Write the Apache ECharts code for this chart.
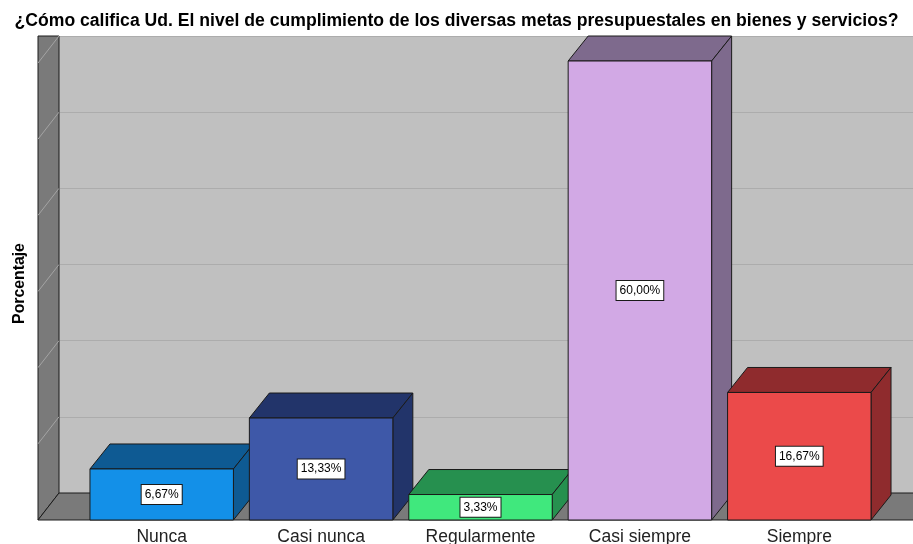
<!DOCTYPE html>
<html>
<head>
<meta charset="utf-8">
<script src="https://cdn.jsdelivr.net/npm/echarts@6/dist/echarts.min.js"></script>
<style>
  html, body { margin: 0; padding: 0; background: #fff; }
  #chart { width: 913px; height: 544px; }
</style>
</head>
<body>
<div id="chart"></div>
<script>
// datos
var categorias = ['Nunca', 'Casi nunca', 'Regularmente', 'Casi siempre', 'Siempre'];
var porcentajes = [6.67, 13.33, 3.33, 60.00, 16.67];
var ticksY = [0, 10, 20, 30, 40, 50, 60];

var colorFrente = ['#1390e8', '#3e58a8', '#40e87d', '#d2a9e5', '#eb4a4a'];
var colorSombra = ['#0e5a93', '#22346a', '#26904f', '#7e6a8d', '#8f2b2d'];

// profundidad 3d
var DX_MURO = 21, DY_MURO = 27;
var DX_BARRA = 20, DY_BARRA = 25;

var chart = echarts.init(document.getElementById('chart'));

function fmt(v) {
  return v.toFixed(2).replace('.', ',') + '%';
}

function dibujaMuros(params, api) {
  var cs = params.coordSys;
  var x0 = cs.x, y0 = cs.y, x1 = cs.x + cs.width, yb = cs.y + cs.height;
  var hijos = [];
  // pared izquierda
  hijos.push({
    type: 'polygon',
    shape: { points: [[x0 - DX_MURO, y0], [x0, y0], [x0, yb], [x0 - DX_MURO, yb + DY_MURO]] },
    style: { fill: '#7a7a7a', stroke: '#1a1a1a', lineWidth: 1 }
  });
  // lineas diagonales de la pared
  ticksY.forEach(function (t) {
    if (t === 0) return;
    var y = api.coord([0, t])[1];
    hijos.push({
      type: 'line',
      shape: { x1: x0, y1: y, x2: x0 - DX_MURO, y2: y + DY_MURO },
      style: { stroke: '#a4a4a4', lineWidth: 1 }
    });
  });
  // piso
  hijos.push({
    type: 'polygon',
    shape: { points: [[x0 - DX_MURO, yb + DY_MURO], [x0, yb], [x1 + 2, yb], [x1 + 2, yb + DY_MURO]] },
    style: { fill: '#7a7a7a', stroke: '#1a1a1a', lineWidth: 1 }
  });
  return { type: 'group', children: hijos };
}

function dibujaBarra(params, api) {
  var i = api.value(0);
  var v = api.value(1);
  var arriba = api.coord([i, v]);
  var base = api.coord([i, 0]);
  var w = api.size([1, 0])[0] * 0.9;
  var xl = arriba[0] - w / 2, xr = arriba[0] + w / 2;
  var yt = arriba[1], yb = base[1];
  var borde = { stroke: '#1a1a1a', lineWidth: 1 };
  return {
    type: 'group',
    children: [
      {
        type: 'polygon',
        shape: { points: [[xl, yt], [xl + DX_BARRA, yt - DY_BARRA], [xr + DX_BARRA, yt - DY_BARRA], [xr, yt]] },
        style: Object.assign({ fill: colorSombra[i] }, borde)
      },
      {
        type: 'polygon',
        shape: { points: [[xr, yt], [xr + DX_BARRA, yt - DY_BARRA], [xr + DX_BARRA, yb - DY_BARRA], [xr, yb]] },
        style: Object.assign({ fill: colorSombra[i] }, borde)
      },
      {
        type: 'rect',
        shape: { x: xl, y: yt, width: w, height: yb - yt },
        style: Object.assign({ fill: colorFrente[i] }, borde)
      },
      {
        type: 'text',
        x: arriba[0],
        y: (yt + yb) / 2,
        style: {
          text: fmt(v),
          align: 'center',
          verticalAlign: 'middle',
          fontFamily: 'Liberation Sans, Arial, sans-serif',
          fontSize: 12,
          fill: '#000',
          backgroundColor: '#fff',
          borderColor: '#1a1a1a',
          borderWidth: 1,
          padding: [4, 3, 3, 3]
        }
      }
    ]
  };
}

var option = {
  backgroundColor: '#fff',
  animation: false,
  title: {
    text: '¿Cómo califica Ud. El nivel de cumplimiento de los diversas metas presupuestales en bienes y servicios?',
    left: 'center',
    top: 7,
    textStyle: {
      fontFamily: 'Liberation Sans, Arial, sans-serif',
      fontSize: 17.6,
      fontWeight: 'bold',
      color: '#000'
    }
  },
  grid: [
    { left: 82, right: 34, top: 61, bottom: 24, outerBoundsMode: 'none' },
    { left: 59, right: 0, top: 36, bottom: 51, show: true, backgroundColor: '#c0c0c0', borderWidth: 0, outerBoundsMode: 'none' }
  ],
  xAxis: [
    {
      type: 'category',
      gridIndex: 0,
      data: categorias,
      axisLine: { show: false },
      axisTick: { show: false },
      axisLabel: {
        margin: 8,
        fontFamily: 'Liberation Sans, Arial, sans-serif',
        fontSize: 17.5,
        color: '#222'
      }
    },
    { type: 'value', gridIndex: 1, min: 0, max: 1, show: false }
  ],
  yAxis: [
    {
      type: 'value',
      gridIndex: 0,
      min: 0,
      max: 60,
      interval: 10,
      name: 'Porcentaje',
      nameLocation: 'middle',
      nameGap: 54,
      nameTextStyle: {
        fontFamily: 'Liberation Sans, Arial, sans-serif',
        fontSize: 15.8,
        fontWeight: 'bold',
        color: '#000',
        padding: [0, 0, 0, 14]
      },
      axisLine: { show: false },
      axisTick: { show: false },
      axisLabel: { show: false },
      splitLine: { show: false }
    },
    {
      type: 'value',
      gridIndex: 1,
      min: 0,
      max: 60,
      interval: 10,
      axisLine: { show: false },
      axisTick: { show: false },
      axisLabel: { show: false },
      splitLine: { show: true, lineStyle: { color: '#acacac', width: 1 } }
    }
  ],
  series: [
    {
      type: 'custom',
      xAxisIndex: 1,
      yAxisIndex: 1,
      renderItem: dibujaMuros,
      data: [[0, 0]],
      silent: true,
      z: 1
    },
    {
      type: 'custom',
      xAxisIndex: 0,
      yAxisIndex: 0,
      renderItem: dibujaBarra,
      data: porcentajes.map(function (v, i) { return [i, v]; }),
      z: 5
    }
  ]
};

chart.setOption(option);
</script>
</body>
</html>
